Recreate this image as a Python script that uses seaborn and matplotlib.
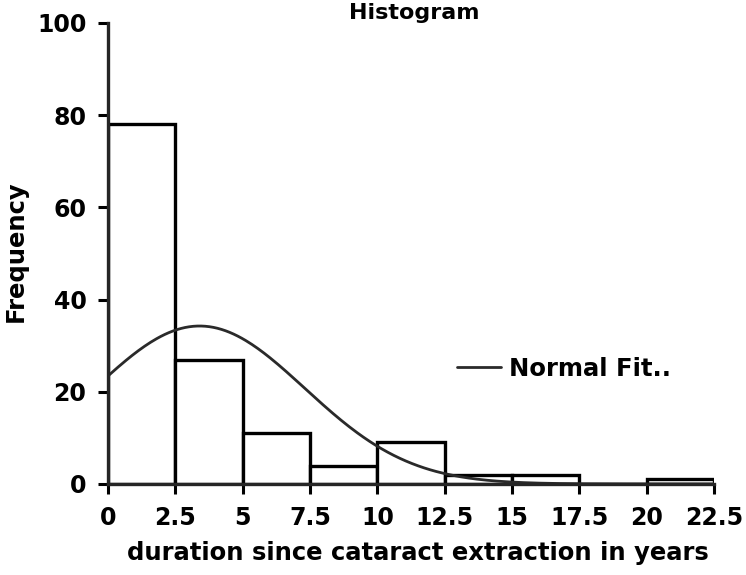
import numpy as np
import pandas as pd
import matplotlib
matplotlib.use('Agg')
import matplotlib.pyplot as plt
import seaborn as sns

# bin edges and counts
bin_edges = [0, 2.5, 5, 7.5, 10, 12.5, 15, 17.5, 20, 22.5]
bin_left = [0, 2.5, 5, 7.5, 10, 12.5, 15, 17.5, 20]
counts = [78, 27, 11, 4, 9, 2, 2, 0, 1]

# normal fit parameters (estimated from the curve)
fit_mean = 3.4
fit_sd = 3.9

x_ticks = [0, 2.5, 5, 7.5, 10, 12.5, 15, 17.5, 20, 22.5]
x_ticklabels = ['0', '2.5', '5', '7.5', '10', '12.5', '15', '17.5', '20', '22.5']
y_ticks = [0, 20, 40, 60, 80, 100]

sns.set_style('ticks')
plt.rcParams['font.family'] = ['DejaVu Sans']
plt.rcParams['text.color'] = 'black'
plt.rcParams['axes.labelcolor'] = 'black'
plt.rcParams['xtick.color'] = 'black'
plt.rcParams['ytick.color'] = 'black'

df = pd.DataFrame({'duration': [b + 1.25 for b in bin_left], 'count': counts})

fig = plt.figure(figsize=(7.46, 5.75), dpi=100)
ax = fig.add_axes([0.1448, 0.1583, 0.8123, 0.8017])

sns.histplot(data=df, x='duration', weights='count', bins=bin_edges,
             color='white', edgecolor='black', linewidth=2.4, alpha=1, ax=ax)

# normal fit scaled to counts
n_total = sum(counts)
xs = np.linspace(0, 22.5, 300)
ys = n_total * 2.5 * np.exp(-0.5 * ((xs - fit_mean) / fit_sd) ** 2) / (fit_sd * np.sqrt(2 * np.pi))
sns.lineplot(x=xs, y=ys, color='#2a2a2a', linewidth=2, ax=ax, label='Normal Fit..')

ax.set_xlim(0, 22.5)
ax.set_ylim(0, 100)
ax.set_xticks(x_ticks)
ax.set_xticklabels(x_ticklabels)
ax.set_yticks(y_ticks)
ax.tick_params(axis='both', labelsize=17, width=2.2, length=7.5, pad=8, color='black')
for lab in ax.get_xticklabels() + ax.get_yticklabels():
    lab.set_fontweight('bold')
sns.despine(ax=ax)
ax.spines['left'].set_linewidth(2.4)
ax.spines['bottom'].set_linewidth(2.4)

ax.set_xlabel('duration since cataract extraction in years', fontsize=17.5, fontweight='bold')
ax.xaxis.set_label_coords(0.512, -0.124)
ax.set_ylabel('Frequency', fontsize=17.5, fontweight='bold')
ax.yaxis.set_label_coords(-0.132, 0.505)
fig.text(0.555, 1 - 13 / 575, 'Histogram', fontsize=16, fontweight='bold',
         ha='center', va='center')

leg = ax.legend(loc='center left', bbox_to_anchor=(0.54, 0.25), frameon=False,
                prop={'size': 17.5, 'weight': 'bold'}, handlelength=1.8, handletextpad=0.35)

fig.savefig('out.png', dpi=100)
